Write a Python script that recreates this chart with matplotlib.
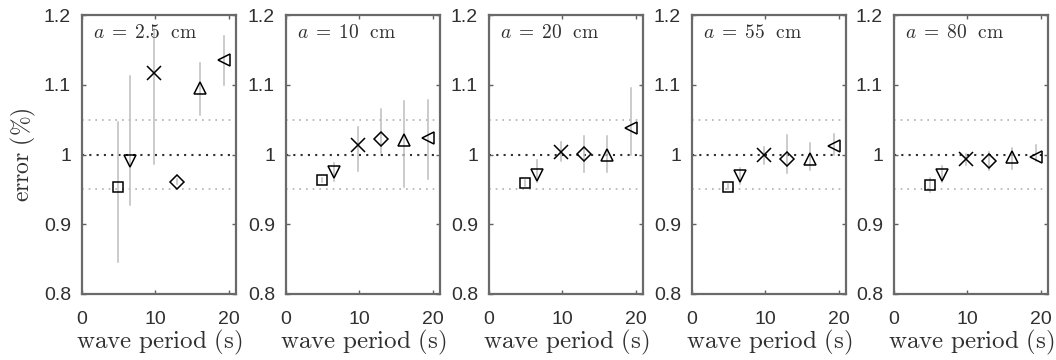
import numpy as np
import matplotlib
matplotlib.use("Agg")
import matplotlib.pyplot as plt

plt.rcParams['mathtext.fontset'] = 'cm'
plt.rcParams['font.family'] = ['Liberation Sans', 'DejaVu Sans']

# wave periods (s), same for every panel
periods = [4.9, 6.6, 9.8, 12.9, 16.1, 19.3]
amplitudes = ['2.5', '10', '20', '55', '80']
markers = ['s', 'v', 'x', 'D', '^', '<']

err_2_5 = [0.953, 0.990, 1.117, 0.961, 1.095, 1.135]
lo_2_5 = [0.846, 0.928, 0.986, 0.957, 1.057, 1.100]
hi_2_5 = [1.047, 1.112, 1.180, 0.965, 1.131, 1.170]

err_10 = [0.963, 0.975, 1.013, 1.022, 1.021, 1.023]
lo_10 = [0.960, 0.962, 0.977, 1.002, 0.954, 0.965]
hi_10 = [0.966, 0.988, 1.040, 1.065, 1.076, 1.078]

err_20 = [0.959, 0.971, 1.003, 1.001, 0.999, 1.038]
lo_20 = [0.955, 0.960, 0.990, 0.975, 0.975, 0.999]
hi_20 = [0.963, 0.992, 1.018, 1.026, 1.026, 1.095]

err_55 = [0.954, 0.969, 0.999, 0.993, 0.993, 1.012]
lo_55 = [0.950, 0.958, 0.987, 0.973, 0.978, 1.000]
hi_55 = [0.958, 0.981, 1.011, 1.028, 1.016, 1.030]

err_80 = [0.956, 0.971, 0.993, 0.991, 0.997, 0.997]
lo_80 = [0.946, 0.960, 0.985, 0.978, 0.979, 0.990]
hi_80 = [0.966, 0.983, 1.001, 1.004, 1.009, 1.014]

panels = [
    (err_2_5, lo_2_5, hi_2_5),
    (err_10, lo_10, hi_10),
    (err_20, lo_20, hi_20),
    (err_55, lo_55, hi_55),
    (err_80, lo_80, hi_80),
]

marker_sizes = {'s': 6.5, 'v': 9, 'x': 10, 'D': 7, '^': 9, '<': 9}

fig = plt.figure(figsize=(10.56, 3.6), dpi=100)
lefts = [82, 286, 489, 692, 894]
W, H = 1056, 360

for i, (vals, lo, hi) in enumerate(panels):
    ax = fig.add_axes([lefts[i] / W, 66 / H, 154 / W, 279 / H])
    ax.axhline(1.05, color='#b0b0b0', ls=(0, (1, 3)), lw=1.2, zorder=1)
    ax.axhline(0.95, color='#b0b0b0', ls=(0, (1, 3)), lw=1.2, zorder=1)
    ax.axhline(1.0, color='#303030', ls=(0, (1, 2.5)), lw=1.5, zorder=1)
    for t, v, l, h, m in zip(periods, vals, lo, hi, markers):
        ax.plot([t, t], [l, h], color='#bdbdbd', lw=1.1, zorder=2)
        ax.plot(t, v, marker=m, ms=marker_sizes[m], mfc='none', mec='black',
                mew=1.1, ls='none', zorder=3)
    ax.set_xlim(0, 21)
    ax.set_ylim(0.8, 1.2)
    ax.set_xticks([0, 10, 20])
    ax.set_yticks([0.8, 0.9, 1.0, 1.1, 1.2])
    ax.set_yticklabels(['0.8', '0.9', '1', '1.1', '1.2'])
    ax.tick_params(direction='in', length=3, width=1, color='#606060',
                   top=True, right=True, labelsize=14, labelcolor='#303030')
    ax.tick_params(axis='x', pad=12)
    ax.tick_params(axis='y', pad=8)
    for s in ax.spines.values():
        s.set_color('#6a6a6a')
        s.set_linewidth(1.6)
    ax.set_xlabel(r'$\mathrm{wave\ period\ (s)}$', fontsize=18, color='#303030', labelpad=0)
    if i == 0:
        ax.set_ylabel(r'$\mathrm{error\ (\%)}$', fontsize=17, color='#303030', labelpad=4)
    ax.text(0.07, 0.935, r'$a\;=\;%s\ \ \mathrm{cm}$' % amplitudes[i],
            transform=ax.transAxes, fontsize=14, va='center', ha='left', color='#303030')

fig.savefig('out.png', dpi=100)
